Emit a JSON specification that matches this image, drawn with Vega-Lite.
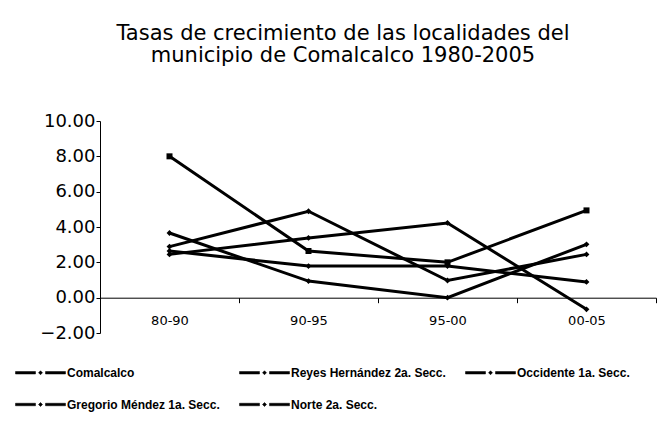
{
  "$schema": "https://vega.github.io/schema/vega-lite/v6.json",
  "width": 556,
  "height": 212,
  "autosize": {"type": "none"},
  "padding": {"left": 100, "top": 121, "right": 13, "bottom": 109},
  "background": "white",
  "config": {
    "view": {"stroke": null},
    "font": "Liberation Sans"
  },
  "title": {
    "text": ["Tasas de crecimiento de las localidades del", "municipio de Comalcalco 1980-2005"],
    "font": "DejaVu Sans",
    "fontSize": 21,
    "fontWeight": "normal",
    "lineHeight": 22,
    "color": "black",
    "anchor": "middle",
    "dx": -35,
    "offset": 46
  },
  "data": {
    "values": [
      {"serie": "Comalcalco", "periodo": "80-90", "tasa": 2.64},
      {"serie": "Comalcalco", "periodo": "90-95", "tasa": 1.79},
      {"serie": "Comalcalco", "periodo": "95-00", "tasa": 1.79},
      {"serie": "Comalcalco", "periodo": "00-05", "tasa": 0.89},
      {"serie": "Reyes Hernández 2a. Secc.", "periodo": "80-90", "tasa": 8.0},
      {"serie": "Reyes Hernández 2a. Secc.", "periodo": "90-95", "tasa": 2.64},
      {"serie": "Reyes Hernández 2a. Secc.", "periodo": "95-00", "tasa": 2.0},
      {"serie": "Reyes Hernández 2a. Secc.", "periodo": "00-05", "tasa": 4.94},
      {"serie": "Occidente 1a. Secc.", "periodo": "80-90", "tasa": 2.89},
      {"serie": "Occidente 1a. Secc.", "periodo": "90-95", "tasa": 4.89},
      {"serie": "Occidente 1a. Secc.", "periodo": "95-00", "tasa": 0.97},
      {"serie": "Occidente 1a. Secc.", "periodo": "00-05", "tasa": 2.45},
      {"serie": "Gregorio Méndez 1a. Secc.", "periodo": "80-90", "tasa": 3.66},
      {"serie": "Gregorio Méndez 1a. Secc.", "periodo": "90-95", "tasa": 0.94},
      {"serie": "Gregorio Méndez 1a. Secc.", "periodo": "95-00", "tasa": 0.0},
      {"serie": "Gregorio Méndez 1a. Secc.", "periodo": "00-05", "tasa": 3.02},
      {"serie": "Norte 2a. Secc.", "periodo": "80-90", "tasa": 2.45},
      {"serie": "Norte 2a. Secc.", "periodo": "90-95", "tasa": 3.38},
      {"serie": "Norte 2a. Secc.", "periodo": "95-00", "tasa": 4.23},
      {"serie": "Norte 2a. Secc.", "periodo": "00-05", "tasa": -0.66}
    ]
  },
  "encoding": {
    "x": {
      "field": "periodo",
      "type": "nominal",
      "sort": ["80-90", "90-95", "95-00", "00-05"],
      "bandPosition": 0.5,
      "scale": {"type": "band", "paddingInner": 0, "paddingOuter": 0},
      "axis": {
        "title": null,
        "labelAngle": 0,
        "offset": -35.3,
        "domainColor": "black",
        "domainWidth": 1,
        "tickColor": "black",
        "tickSize": 5,
        "tickBand": "extent",
        "labelPadding": 12,
        "labelFont": "DejaVu Sans",
        "labelFontSize": 13,
        "labelColor": "black",
        "grid": false
      }
    },
    "y": {
      "field": "tasa",
      "type": "quantitative",
      "scale": {"domain": [-2, 10], "nice": false, "zero": false},
      "axis": {
        "title": null,
        "values": [-2, 0, 2, 4, 6, 8, 10],
        "format": ".2f",
        "grid": false,
        "domainColor": "black",
        "tickColor": "black",
        "tickSize": 4,
        "labelPadding": 1,
        "labelFont": "DejaVu Sans",
        "labelFontSize": 18,
        "labelColor": "black"
      }
    },
    "color": {
      "field": "serie",
      "type": "nominal",
      "scale": {
        "domain": ["Comalcalco", "Reyes Hernández 2a. Secc.", "Occidente 1a. Secc.", "Gregorio Méndez 1a. Secc.", "Norte 2a. Secc."],
        "range": ["black", "black", "black", "black", "black"]
      },
      "legend": {
        "title": null,
        "orient": "none",
        "legendX": -85,
        "legendY": 226,
        "direction": "horizontal",
        "columns": 3,
        "gridAlign": "each",
        "columnPadding": 18,
        "rowPadding": -7,
        "symbolType": "M-1,-0.05H-0.2V0.05H-1Z M0.2,-0.05H1V0.05H0.2Z M0,-0.08L0.08,0L0,0.08L-0.08,0Z",
        "symbolSize": 2500,
        "labelFontSize": 12,
        "labelFontWeight": "bold",
        "labelColor": "black",
        "labelOffset": 1,
        "labelLimit": 300,
        "encode": {
          "symbols": {
            "update": {
              "fill": {"value": "black"},
              "stroke": {"value": "black"},
              "strokeWidth": {"value": 0.5},
              "opacity": {"value": 1}
            }
          }
        }
      }
    }
  },
  "layer": [
    {
      "mark": {"type": "line", "strokeWidth": 3}
    },
    {
      "transform": [{"filter": "datum.serie !== 'Reyes Hernández 2a. Secc.'"}],
      "mark": {"type": "point", "shape": "diamond", "filled": true, "size": 34, "opacity": 1}
    },
    {
      "transform": [{"filter": "datum.serie === 'Reyes Hernández 2a. Secc.'"}],
      "mark": {"type": "point", "shape": "square", "filled": true, "size": 36, "opacity": 1}
    }
  ]
}
